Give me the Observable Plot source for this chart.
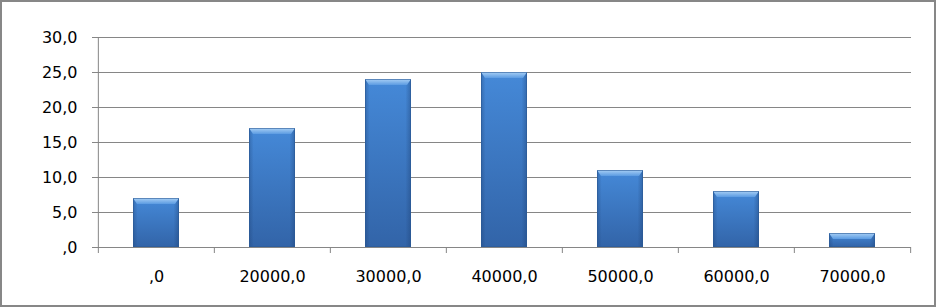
<!DOCTYPE html>
<html><head><meta charset="utf-8">
<script src="https://cdn.jsdelivr.net/npm/d3@7"></script>
<script src="https://cdn.jsdelivr.net/npm/@observablehq/plot@0.6"></script>
<style>
html,body{margin:0;padding:0;background:#fff}
#wrap{position:relative;width:936px;height:307px;overflow:hidden}
#frame{position:absolute;left:0;top:0;width:936px;height:307px;box-sizing:border-box;border:2px solid #878787;pointer-events:none}
</style></head>
<body><div id="wrap"><div id="frame"></div></div>
<script>
const categories = [",0","20000,0","30000,0","40000,0","50000,0","60000,0","70000,0"];
const values = [7, 17, 24, 25, 11, 8, 2];
const yTicks = [0, 5, 10, 15, 20, 25, 30];
const yTickLabels = [",0","5,0","10,0","15,0","20,0","25,0","30,0"];

const data = categories.map((c, i) => ({c, v: values[i]}));
const W = 936, H = 307, ML = 97, MR = 25, MT = 37, MB = 60;
const step = (W - ML - MR) / categories.length;
const gridColor = "#868686";

const bevel = (index, scales, vals, dims, ctx, next) => {
  const g = next(index, scales, vals, dims, ctx);
  const sel = d3.select(g);
  sel.selectAll("rect").each(function() {
    const r = d3.select(this);
    const x = +r.attr("x"), y = +r.attr("y"), w = +r.attr("width"), h = +r.attr("height");
    const b = Math.min(6, h / 2), s = 4;
    sel.append("rect").attr("x", x).attr("y", y).attr("width", w).attr("height", h)
      .attr("fill", "url(#sideShade)");
    sel.append("path").attr("d", `M${x},${y}H${x + w}L${x + w - s},${y + b}H${x + s}Z`)
      .attr("fill", "url(#topBevel)");
    sel.append("rect").attr("x", x + 0.5).attr("y", y + 0.5).attr("width", w - 1).attr("height", h - 1)
      .attr("fill", "none").attr("stroke", "#2b5a96").attr("stroke-opacity", 0.6);
  });
  return g;
};

const chart = Plot.plot({
  width: W, height: H,
  marginLeft: ML, marginRight: MR, marginTop: MT, marginBottom: MB,
  style: {fontFamily: "DejaVu Sans", fontSize: "16px", color: "#000", background: "transparent"},
  x: {domain: categories, paddingInner: 0.6, paddingOuter: 0.3, label: null},
  y: {domain: [0, 30], label: null},
  marks: [
    Plot.ruleY(yTicks, {stroke: gridColor, strokeWidth: 1}),
    Plot.barY(data, {x: "c", y: "v", fill: "url(#barFill)", render: bevel}),
    Plot.ruleX([categories[0]], {stroke: gridColor, dx: -step / 2}),
    Plot.axisY({ticks: yTicks, tickSize: 5, tickPadding: 15, stroke: gridColor, strokeOpacity: 1,
      tickFormat: d => yTickLabels[yTicks.indexOf(d)], fill: "#000", fontSize: 16}),
    Plot.axisX({ticks: categories, tickSize: 6, dx: -step / 2, stroke: gridColor, strokeOpacity: 1, tickFormat: () => ""}),
    Plot.axisX({ticks: categories.slice(-1), tickSize: 6, dx: step / 2, stroke: gridColor, strokeOpacity: 1, tickFormat: () => ""}),
    Plot.axisX({ticks: categories, tickSize: 0, tickPadding: 23, fill: "#000", fontSize: 16})
  ]
});

chart.insertAdjacentHTML("afterbegin", `<defs>
<linearGradient id="barFill" x1="0" y1="0" x2="0" y2="1">
  <stop offset="0" stop-color="#4589d8"/>
  <stop offset="1" stop-color="#3264a8"/>
</linearGradient>
<linearGradient id="sideShade" x1="0" y1="0" x2="1" y2="0">
  <stop offset="0" stop-color="#1c3e70" stop-opacity="0.35"/>
  <stop offset="0.1" stop-color="#1c3e70" stop-opacity="0"/>
  <stop offset="0.88" stop-color="#1c3e70" stop-opacity="0"/>
  <stop offset="1" stop-color="#1c3e70" stop-opacity="0.4"/>
</linearGradient>
<linearGradient id="topBevel" x1="0" y1="0" x2="0" y2="1">
  <stop offset="0" stop-color="#a9d0f5"/>
  <stop offset="1" stop-color="#5b9be2"/>
</linearGradient>
</defs>`);

document.getElementById("wrap").prepend(chart);
chart.style.position = "absolute";
chart.style.left = "0";
chart.style.top = "0";
</script>
</body></html>
